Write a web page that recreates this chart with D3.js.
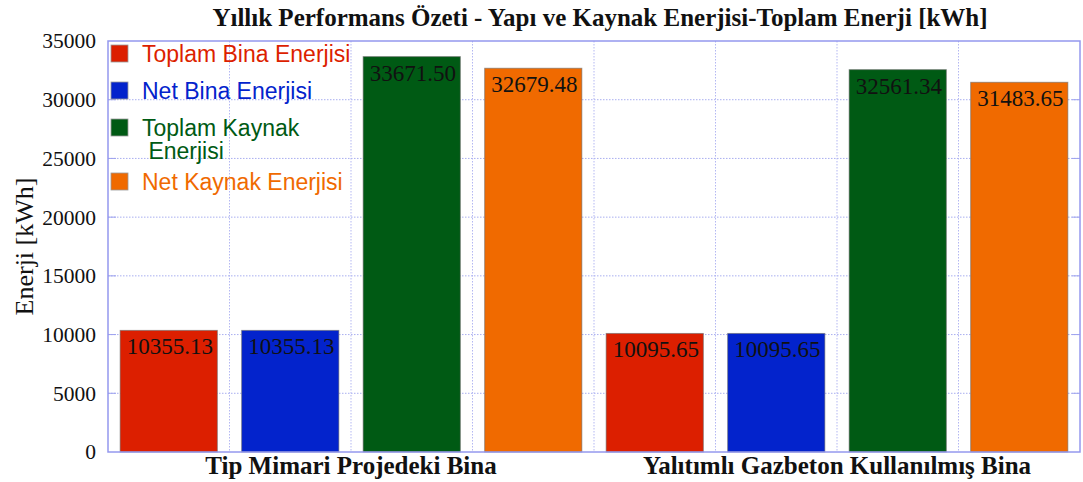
<!DOCTYPE html>
<html>
<head>
<meta charset="utf-8">
<script src="https://cdn.jsdelivr.net/npm/d3@7/dist/d3.min.js"></script>
<style>
  html, body { margin: 0; padding: 0; background: #fff; }
  svg { display: block; }
</style>
</head>
<body>
<svg id="chart" width="1083" height="482"></svg>
<script>
// Annual energy summary for two building variants
const buildings = ["Tip Mimari Projedeki Bina", "Yalıtımlı Gazbeton Kullanılmış Bina"];
const seriesNames = ["Toplam Bina Enerjisi", "Net Bina Enerjisi", "Toplam Kaynak Enerjisi", "Net Kaynak Enerjisi"];
const seriesColors = ["#dc1f00", "#0323cc", "#005a14", "#f06a00"];
const legendLines = [["Toplam Bina Enerjisi"], ["Net Bina Enerjisi"], ["Toplam Kaynak", " Enerjisi"], ["Net Kaynak Enerjisi"]];
const toplamBina = [10355.13, 10095.65];
const netBina = [10355.13, 10095.65];
const toplamKaynak = [33671.50, 32561.34];
const netKaynak = [32679.48, 31483.65];
const yTicks = [0, 5000, 10000, 15000, 20000, 25000, 30000, 35000];

const seriesValues = [toplamBina, netBina, toplamKaynak, netKaynak];
const rows = [];
buildings.forEach((b, bi) => {
  seriesNames.forEach((s, si) => rows.push({ building: b, series: s, value: seriesValues[si][bi], color: seriesColors[si] }));
});

const serif = "'Liberation Serif', 'Times New Roman', serif";
const sans = "'Liberation Sans', Arial, sans-serif";

const svg = d3.select("#chart");
const plotLeft = 108, plotRight = 1080, plotTop = 41, plotBottom = 452;

const x0 = d3.scaleBand().domain(buildings).range([plotLeft, plotRight]).padding(0);
const x1 = d3.scaleBand().domain(seriesNames).range([0, x0.bandwidth()]).paddingInner(0.2).paddingOuter(0.1);
const y = d3.scaleLinear().domain([0, 35000]).range([plotBottom, plotTop]);

// grid
const grid = svg.append("g");
grid.selectAll("line.h").data(yTicks.slice(1, -1)).join("line")
  .attr("x1", plotLeft).attr("x2", plotRight)
  .attr("y1", d => y(d)).attr("y2", d => y(d))
  .attr("stroke", "#a9aef0").attr("stroke-width", 1).attr("stroke-dasharray", "1.5,1.5");
const slotEdges = [];
buildings.forEach(b => {
  const step = x0.bandwidth() / seriesNames.length;
  for (let i = 1; i <= seriesNames.length; i++) slotEdges.push(x0(b) + i * step);
});
grid.selectAll("line.v").data(slotEdges.slice(0, -1)).join("line")
  .attr("x1", d => d).attr("x2", d => d)
  .attr("y1", plotTop).attr("y2", plotBottom)
  .attr("stroke", "#b3b7f2").attr("stroke-width", 1).attr("stroke-dasharray", "1.5,1.5");

// tick stubs on the frame
svg.append("g").selectAll("line").data(yTicks.slice(1, -1)).join("line")
  .attr("x1", plotLeft).attr("x2", plotLeft + 8).attr("y1", d => y(d)).attr("y2", d => y(d))
  .attr("stroke", "#9da2ee").attr("stroke-width", 1);
svg.append("g").selectAll("line").data(yTicks.slice(1, -1)).join("line")
  .attr("x1", plotRight - 8).attr("x2", plotRight).attr("y1", d => y(d)).attr("y2", d => y(d))
  .attr("stroke", "#9da2ee").attr("stroke-width", 1);

// bars
const groups = svg.append("g").selectAll("g").data(buildings).join("g")
  .attr("transform", d => `translate(${x0(d)},0)`);
groups.selectAll("rect").data(b => rows.filter(r => r.building === b)).join("rect")
  .attr("x", d => x1(d.series))
  .attr("width", x1.bandwidth())
  .attr("y", d => y(d.value))
  .attr("height", d => y(0) - y(d.value))
  .attr("fill", d => d.color)
  .attr("stroke", "#6a6a6a").attr("stroke-opacity", 0.6).attr("stroke-width", 1);
groups.selectAll("text").data(b => rows.filter(r => r.building === b)).join("text")
  .attr("x", d => x1(d.series) + x1.bandwidth() / 2 + 1)
  .attr("y", d => y(d.value) + 24)
  .attr("text-anchor", "middle")
  .attr("font-family", serif)
  .attr("font-size", 23)
  .attr("fill", "#111")
  .text(d => d3.format(".2f")(d.value));

// frame
svg.append("rect").attr("x", plotLeft).attr("y", plotTop).attr("width", plotRight - plotLeft).attr("height", plotBottom - plotTop)
  .attr("fill", "none").attr("stroke", "#9498ee").attr("stroke-width", 1.5);

// y axis labels
const yAxis = d3.axisLeft(y).tickValues(yTicks).tickSize(0).tickPadding(12).tickFormat(d3.format("d"));
const ya = svg.append("g").attr("transform", `translate(${plotLeft},0)`).call(yAxis);
ya.select(".domain").remove();
ya.selectAll("text").attr("font-family", serif)
  .attr("font-size", 21.5).attr("fill", "#111");

// x axis labels
const xAxis = d3.axisBottom(x0).tickSize(0).tickPadding(4);
const xa = svg.append("g").attr("transform", `translate(0,${plotBottom})`).call(xAxis);
xa.select(".domain").remove();
xa.selectAll("text").attr("font-family", serif)
  .attr("font-size", 25).attr("font-weight", "bold").attr("fill", "#111");

// y axis title
svg.append("text")
  .attr("transform", `translate(33,${(plotTop + plotBottom) / 2}) rotate(-90)`)
  .attr("text-anchor", "middle")
  .attr("font-family", serif)
  .attr("font-size", 26).attr("fill", "#111")
  .text("Enerji [kWh]");

// title
svg.append("text")
  .attr("x", 600).attr("y", 26)
  .attr("text-anchor", "middle")
  .attr("font-family", serif)
  .attr("font-size", 25).attr("font-weight", "bold").attr("fill", "#111")
  .text("Yıllık Performans Özeti - Yapı ve Kaynak Enerjisi-Toplam Enerji [kWh]");

// legend
const legendY = [45, 82, 119, 173];
const legend = svg.append("g");
seriesNames.forEach((s, i) => {
  legend.append("rect").attr("x", 111).attr("y", legendY[i]).attr("width", 17).attr("height", 17)
    .attr("fill", seriesColors[i]).attr("stroke", "#999").attr("stroke-width", 0.8);
  const t = legend.append("text")
    .attr("font-family", sans)
    .attr("font-size", 23).attr("fill", seriesColors[i]);
  legendLines[i].forEach((line, li) => {
    t.append("tspan").attr("x", 142).attr("y", legendY[i] + 17 + li * 23)
      .attr("xml:space", "preserve").style("white-space", "pre").text(line);
  });
});
</script>
</body>
</html>
